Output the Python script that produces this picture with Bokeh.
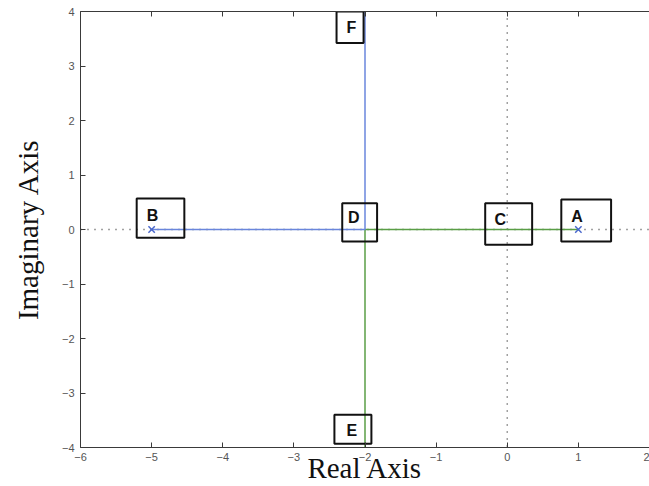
from bokeh.plotting import figure
from bokeh.models import LinearAxis, Span, Range1d, FixedTicker
from bokeh.core.properties import value
from bokeh.embed import file_html
from bokeh.resources import INLINE

# ---- data ----
# root-locus branches (real, imaginary)
blue_real = [-5, -2, -2]
blue_imag = [0, 0, 4]
green_real = [1, -2, -2]
green_imag = [0, 0, -4]
# open-loop poles
pole_real = [-5, 1]
pole_imag = [0, 0]
# annotated points
point_names = ["A", "B", "C", "D", "E", "F"]

# tick values / labels
x_ticks = [-6, -5, -4, -3, -2, -1, 0, 1, 2]
x_tick_labels = ["\u22126", "\u22125", "\u22124", "\u22123", "\u22122", "\u22121", "0", "1", "2"]
y_ticks = [-4, -3, -2, -1, 0, 1, 2, 3, 4]
y_tick_labels = ["\u22124", "\u22123", "\u22122", "\u22121", "0", "1", "2", "3", "4"]

# ---- label box placement (annotation layout) ----
box_left = [0.76, -5.21, -0.31, -2.32, -2.43, -2.40]
box_right = [1.46, -4.54, 0.35, -1.83, -1.91, -2.02]
box_top = [0.55, 0.57, 0.48, 0.48, -3.40, 4.00]
box_bottom = [-0.22, -0.15, -0.28, -0.22, -3.93, 3.42]
text_x = [0.90, -5.07, -0.18, -2.24, -2.26, -2.26]
text_y = [0.24, 0.26, 0.19, 0.22, -3.68, 3.71]

BLUE = "#6a86dc"
GREEN = "#5a9e46"
AXIS = "#3a3a3a"

p = figure(width=649, height=486,
           x_range=Range1d(-6, 2), y_range=Range1d(-4, 4),
           output_backend="svg", toolbar_location=None,
           min_border_left=80, min_border_right=0,
           min_border_top=11, min_border_bottom=0,
           x_axis_label="Real Axis", y_axis_label="Imaginary Axis")
p.grid.visible = False
p.outline_line_color = None
p.background_fill_color = "white"
p.border_fill_color = "white"

for ax, ticks, lbls in ((p.xaxis[0], x_ticks, x_tick_labels), (p.yaxis[0], y_ticks, y_tick_labels)):
    ax.ticker = FixedTicker(ticks=ticks)
    ax.major_label_overrides = {t: l for t, l in zip(ticks, lbls)}
    ax.major_tick_in = 5
    ax.major_tick_out = 0
    ax.minor_tick_line_color = None
    ax.axis_line_color = AXIS
    ax.major_tick_line_color = AXIS
    ax.major_label_text_font = "Liberation Sans"
    ax.major_label_text_font_size = "11px"
    ax.major_label_text_color = "#555555"
    ax.axis_label_text_font = "Liberation Serif"
    ax.axis_label_text_font_style = "normal"
    ax.axis_label_text_font_size = "29px"
    ax.axis_label_text_color = "#111111"

p.xaxis[0].major_label_standoff = 5
p.xaxis[0].axis_label_standoff = -12
p.yaxis[0].major_label_standoff = 6
p.yaxis[0].axis_label_standoff = 15

top = LinearAxis(ticker=FixedTicker(ticks=x_ticks),
                 major_label_overrides={t: "" for t in x_ticks},
                 major_label_text_font_size="1px",
                 major_label_standoff=0, major_tick_in=5, major_tick_out=0,
                 minor_tick_line_color=None, axis_line_color=AXIS,
                 major_tick_line_color=AXIS)
p.add_layout(top, "above")

# dotted zero lines
p.add_layout(Span(location=0, dimension="width", line_color="#444444",
                  line_dash="1 6", line_width=1.5, level="underlay"))
p.add_layout(Span(location=0, dimension="height", line_color="#444444",
                  line_dash="1 6", line_width=1.5, level="underlay"))

# locus branches
p.line(green_real, green_imag, line_color=GREEN, line_width=1.5)
p.line(blue_real, blue_imag, line_color=BLUE, line_width=1.5)
p.scatter(pole_real, pole_imag, marker="x", size=9, line_color="#4a68cc", line_width=1.5)

# label boxes
p.quad(left=box_left, right=box_right, top=box_top, bottom=box_bottom,
       fill_color=None, line_color="#111111", line_width=2)
p.text(x=text_x, y=text_y, text=point_names, text_font=value("Liberation Sans"),
       text_font_style="bold", text_font_size="16px", text_color="#111111",
       text_align="left", text_baseline="middle")

open("out.html", "w").write(file_html(p, INLINE))
